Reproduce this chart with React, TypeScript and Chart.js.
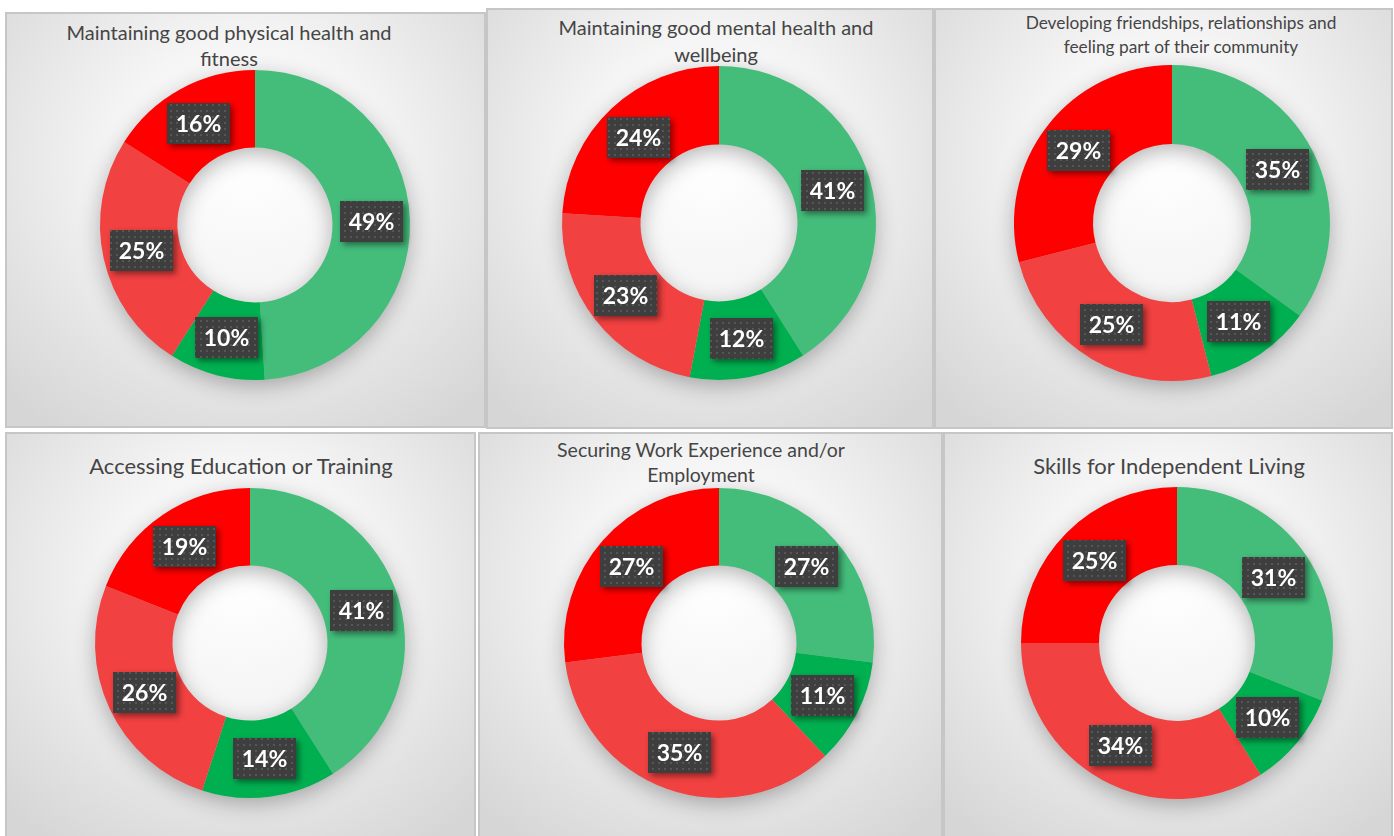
import React, { useEffect, useRef } from "react";
import { Chart, registerables } from "chart.js";

Chart.register(...registerables);

// ---------- data ----------
const segmentLabels = ["Segment 1", "Segment 2", "Segment 3", "Segment 4"];
const segmentColors = ["#44BD7B", "#00B050", "#F24141", "#FF0000"];

const physicalHealthValues = [49, 10, 25, 16];
const mentalHealthValues = [41, 12, 23, 24];
const friendshipsValues = [35, 11, 25, 29];
const educationValues = [41, 14, 26, 19];
const employmentValues = [27, 11, 35, 27];
const independentLivingValues = [31, 10, 34, 25];

const physicalHealthTitle = ["Maintaining good physical health and", "fitness"];
const mentalHealthTitle = ["Maintaining good mental health and", "wellbeing"];
const friendshipsTitle = ["Developing friendships, relationships and", "feeling part of their community"];
const educationTitle = ["Accessing Education or Training"];
const employmentTitle = ["Securing Work Experience and/or", "Employment"];
const independentLivingTitle = ["Skills for Independent Living"];

// ---------- layout (page coordinates) ----------
type PanelSpec = {
  values: number[];
  title: string[];
  box: [number, number, number, number]; // left, top, width, height
  center: [number, number, number]; // cx, cy, r
  titleCx: number;
  titleTop: number;
  fontSize: number;
  lineHeight: number;
};

const panels: PanelSpec[] = [
  { values: physicalHealthValues, title: physicalHealthTitle, box: [5, 12, 481, 416], center: [255, 225, 155], titleCx: 229, titleTop: 18.5, fontSize: 20, lineHeight: 26.5 },
  { values: mentalHealthValues, title: mentalHealthTitle, box: [486, 8, 448, 421], center: [719, 223, 157], titleCx: 716, titleTop: 14, fontSize: 20, lineHeight: 27 },
  { values: friendshipsValues, title: friendshipsTitle, box: [934, 8, 459, 421], center: [1172, 223, 158], titleCx: 1181, titleTop: 10.5, fontSize: 17.3, lineHeight: 24 },
  { values: educationValues, title: educationTitle, box: [5, 432, 471, 410], center: [250, 643, 155], titleCx: 241, titleTop: 451.5, fontSize: 22, lineHeight: 27 },
  { values: employmentValues, title: employmentTitle, box: [478, 432, 465, 410], center: [719, 643, 155], titleCx: 701, titleTop: 437, fontSize: 19.5, lineHeight: 25 },
  { values: independentLivingValues, title: independentLivingTitle, box: [943, 432, 450, 410], center: [1177, 643, 156], titleCx: 1169, titleTop: 451.5, fontSize: 22, lineHeight: 27 },
];

const MARGIN = 40;

function makePattern(ctx: CanvasRenderingContext2D) {
  const c = document.createElement("canvas");
  c.width = 6;
  c.height = 6;
  const p = c.getContext("2d")!;
  p.fillStyle = "#3e3e3e";
  p.fillRect(0, 0, 6, 6);
  p.fillStyle = "#565656";
  p.fillRect(2, 2, 2, 2);
  return ctx.createPattern(c, "repeat")!;
}

const ringShadowPlugin = {
  id: "ringShadow",
  beforeDatasetsDraw(chart: any) {
    const meta = chart.getDatasetMeta(0);
    if (!meta.data.length) return;
    const arc = meta.data[0];
    const { x, y, outerRadius, innerRadius } = arc.getProps(["x", "y", "outerRadius", "innerRadius"], true);
    const ctx = chart.ctx as CanvasRenderingContext2D;
    ctx.save();
    ctx.beginPath();
    ctx.arc(x, y, outerRadius - 1, 0, Math.PI * 2);
    ctx.arc(x, y, innerRadius + 1, 0, Math.PI * 2, true);
    ctx.closePath();
    ctx.shadowColor = "rgba(0,0,0,0.30)";
    ctx.shadowBlur = 22;
    ctx.shadowOffsetY = 6;
    ctx.fillStyle = "#c0c0c0";
    ctx.fill();
    ctx.restore();
  },
};

const boxLabelPlugin = {
  id: "boxLabels",
  afterDatasetsDraw(chart: any) {
    const ctx = chart.ctx as CanvasRenderingContext2D;
    const meta = chart.getDatasetMeta(0);
    const data = chart.data.datasets[0].data as number[];
    const pattern = makePattern(ctx);
    const w = 63;
    const h = 41;
    meta.data.forEach((arc: any, i: number) => {
      const p = arc.tooltipPosition(true);
      const left = Math.round(p.x - w / 2);
      const top = Math.round(p.y - h / 2);
      ctx.save();
      ctx.shadowColor = "rgba(0,0,0,0.45)";
      ctx.shadowBlur = 6;
      ctx.shadowOffsetX = 3;
      ctx.shadowOffsetY = 3;
      ctx.fillStyle = "#3e3e3e";
      ctx.fillRect(left, top, w, h);
      ctx.restore();
      ctx.save();
      ctx.fillStyle = pattern;
      ctx.fillRect(left, top, w, h);
      ctx.fillStyle = "#ffffff";
      ctx.font = "bold 23px Lato";
      ctx.textAlign = "center";
      ctx.textBaseline = "middle";
      ctx.fillText(data[i] + "%", left + w / 2, top + h / 2 + 1);
      ctx.restore();
    });
  },
};

function DonutPanel({ spec }: { spec: PanelSpec }) {
  const ref = useRef<HTMLCanvasElement>(null);
  const [cx, cy, r] = spec.center;
  const size = 2 * (r + MARGIN);

  useEffect(() => {
    if (!ref.current) return;
    const chart = new Chart(ref.current, {
      type: "doughnut",
      data: {
        labels: segmentLabels,
        datasets: [
          {
            data: spec.values,
            backgroundColor: segmentColors,
            borderWidth: 0,
            hoverOffset: 0,
          },
        ],
      },
      options: {
        responsive: false,
        animation: false,
        cutout: "50%",
        events: [],
        layout: { padding: MARGIN },
        plugins: {
          legend: { display: false },
          tooltip: { enabled: false },
          title: { display: false },
        },
      },
      plugins: [ringShadowPlugin, boxLabelPlugin],
    });
    return () => chart.destroy();
  }, [spec]);

  const [bl, bt, bw, bh] = spec.box;
  return (
    <>
      <div
        style={{
          position: "absolute",
          left: bl,
          top: bt,
          width: bw,
          height: bh,
          boxSizing: "border-box",
          border: "2px solid #c6c6c6",
          background:
            "radial-gradient(ellipse 72% 78% at 50% 36%, #ffffff 0%, #f5f5f5 38%, #e2e2e2 75%, #d6d6d6 100%)",
        }}
      />
      <div
        style={{
          position: "absolute",
          left: spec.titleCx - 250,
          top: spec.titleTop,
          width: 500,
          textAlign: "center",
          fontFamily: "Lato, 'Open Sans', sans-serif",
          fontSize: spec.fontSize,
          lineHeight: spec.lineHeight + "px",
          color: "#454545",
          whiteSpace: "nowrap",
        }}
      >
        {spec.title.map((line, i) => (
          <div key={i}>{line}</div>
        ))}
      </div>
      <canvas
        ref={ref}
        width={size}
        height={size}
        style={{
          position: "absolute",
          left: cx - r - MARGIN,
          top: cy - r - MARGIN,
          width: size,
          height: size,
        }}
      />
    </>
  );
}

export default function App() {
  return (
    <div
      style={{
        position: "absolute",
        left: 0,
        top: 0,
        width: 1394,
        height: 836,
        overflow: "hidden",
        background: "#ffffff",
      }}
    >
      {panels.map((p, i) => (
        <DonutPanel key={i} spec={p} />
      ))}
    </div>
  );
}
